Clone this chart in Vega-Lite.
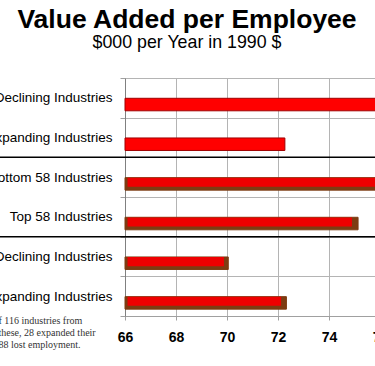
{
  "$schema": "https://vega.github.io/schema/vega-lite/v6.json",
  "width": 306,
  "height": 238,
  "autosize": {"type": "none"},
  "padding": {"left": 125, "top": 78, "right": -56, "bottom": 50},
  "background": "white",
  "config": {"view": {"stroke": null}, "font": "Liberation Sans"},
  "title": {
    "text": "Value Added per Employee",
    "subtitle": "$000 per Year in 1990 $",
    "anchor": "start",
    "align": "center",
    "dx": 62,
    "font": "Liberation Sans",
    "fontSize": 26.5,
    "fontWeight": "bold",
    "color": "black",
    "subtitleFont": "Liberation Sans",
    "subtitleFontSize": 17.8,
    "subtitleColor": "black",
    "subtitlePadding": 1,
    "offset": 19,
    "frame": "group"
  },
  "datasets": {
    "bars": [
      {"cat": "1|Declining Industries", "group": "A", "value": 77.4, "front": 77.4},
      {"cat": "2|Expanding Industries", "group": "A", "value": 72.27, "front": 72.27},
      {"cat": "3|Bottom 58 Industries", "group": "B", "value": 77.0, "front": 76.8},
      {"cat": "4|Top 58 Industries", "group": "B", "value": 75.14, "front": 74.9},
      {"cat": "5|Declining Industries", "group": "B", "value": 70.05, "front": 69.88},
      {"cat": "6|Expanding Industries", "group": "B", "value": 72.33, "front": 72.12}
    ],
    "separators": [
      {"cat": "3|Bottom 58 Industries"},
      {"cat": "5|Declining Industries"}
    ]
  },
  "resolve": {"scale": {"yOffset": "independent"}},
  "layer": [
    {
      "data": {"name": "bars"},
      "mark": {"type": "bar", "strokeWidth": 1},
      "encoding": {
        "y": {
          "field": "cat",
          "type": "nominal",
          "scale": {
            "domain": ["1|Declining Industries", "2|Expanding Industries", "3|Bottom 58 Industries", "4|Top 58 Industries", "5|Declining Industries", "6|Expanding Industries"],
            "paddingInner": 0,
            "paddingOuter": 0
          },
          "axis": {
            "tickBand": "extent",
            "grid": true,
            "gridColor": "#b4b4b4",
            "domainColor": "#808080",
            "tickColor": "#a0a0a0",
            "tickSize": 5,
            "labelExpr": "split(datum.label, '|')[1]",
            "labelFont": "Liberation Sans",
            "labelFontSize": 13.5,
            "labelColor": "black",
            "labelPadding": 8,
            "labelLimit": 300,
            "title": ["f 116 industries from", "these, 28 expanded their", "88 lost employment."],
            "titleAngle": 0,
            "titleAlign": "left",
            "titleBaseline": "top",
            "titleX": -127,
            "titleY": 237,
            "titleFont": "Liberation Serif",
            "titleFontSize": 10,
            "titleFontWeight": "normal",
            "titleColor": "#333333",
            "titleLineHeight": 12
          }
        },
        "yOffset": {"datum": "bar", "scale": {"domain": ["gap", "bar"], "paddingInner": 0.069, "paddingOuter": 0.5115}},
        "x": {
          "field": "value",
          "type": "quantitative",
          "scale": {"domain": [66, 78], "zero": false, "nice": false},
          "axis": {
            "values": [66, 67, 68, 69, 70, 71, 72, 73, 74, 75, 76, 77, 78],
            "labelExpr": "datum.value % 2 === 0 ? datum.label : ''",
            "grid": true,
            "gridColor": "#b4b4b4",
            "domainColor": "#a0a0a0",
            "tickColor": "#a0a0a0",
            "tickSize": 4,
            "labelFont": "Liberation Sans",
            "labelFontWeight": "bold",
            "labelFontSize": 14,
            "labelColor": "black",
            "labelPadding": 10,
            "labelFlush": false,
            "labelOverlap": false,
            "title": null
          }
        },
        "x2": {"datum": 66},
        "color": {"field": "group", "type": "nominal", "scale": {"domain": ["A", "B"], "range": ["#ff0000", "#7d3c12"]}, "legend": null},
        "stroke": {"field": "group", "type": "nominal", "scale": {"domain": ["A", "B"], "range": ["#a00000", "#7d3c12"]}, "legend": null}
      }
    },
    {
      "data": {"name": "bars"},
      "transform": [{"filter": "datum.group === 'B'"}],
      "mark": {"type": "bar", "color": "#ee0000", "strokeWidth": 0},
      "encoding": {
        "y": {"field": "cat", "type": "nominal"},
        "yOffset": {"datum": "bar", "scale": {"domain": ["gap", "bar"], "paddingInner": 0.113, "paddingOuter": 1.4666}},
        "x": {"field": "front", "type": "quantitative"},
        "x2": {"datum": 66.1}
      }
    },
    {
      "data": {"name": "separators"},
      "mark": {"type": "rule", "color": "black", "strokeWidth": 1.5},
      "encoding": {
        "y": {"field": "cat", "type": "nominal", "bandPosition": 0},
        "x": {"datum": 40},
        "x2": {"datum": 90}
      }
    }
  ]
}
